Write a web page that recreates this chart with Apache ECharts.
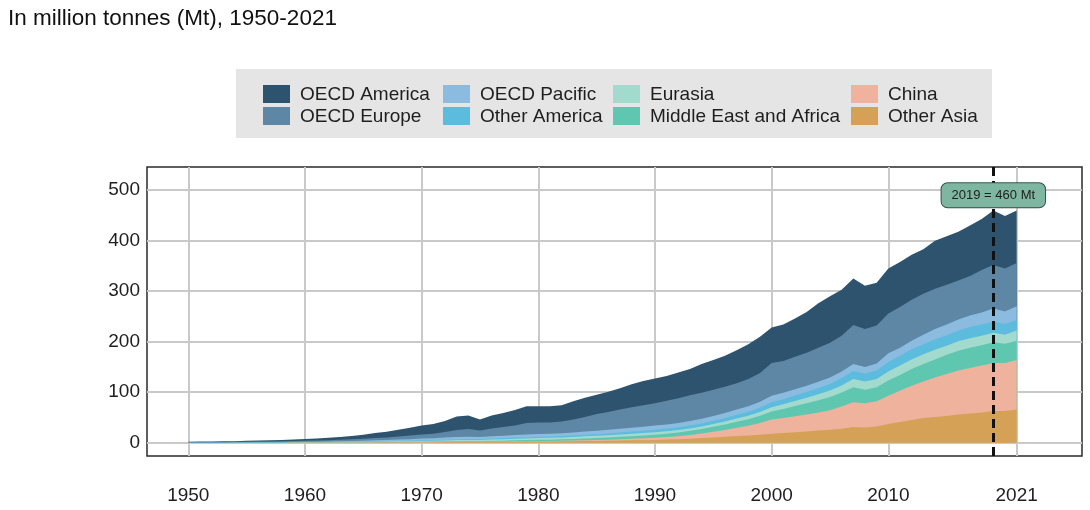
<!DOCTYPE html>
<html>
<head>
<meta charset="utf-8">
<script src="https://cdn.jsdelivr.net/npm/echarts@6/dist/echarts.min.js"></script>
<style>
  html, body { margin: 0; padding: 0; background: #fff; }
  #main { width: 1090px; height: 510px; }
</style>
</head>
<body>
<div id="main"></div>
<script>
// years 1950..2021
var years = [];
for (var y = 1950; y <= 2021; y++) years.push(y);

// values in Mt
var otherAsia = [0,0,0,0,0,0.1,0.1,0.1,0.1,0.2, 0.2,0.2,0.3,0.3,0.4,0.5,0.6,0.7,0.8,0.9,
  1.0,1.1,1.3,1.5,1.6,1.5,1.7,1.9,2.1,2.3, 2.4,2.5,2.7,3.0,3.3,3.6,3.9,4.3,4.7,5.1,
  5.5,6.2,7,8,9.2,10.5,12,13.5,14.5,16, 18,19,20.5,22,24,25.5,27.5,31,30,32,
  37,41,45,49,51,53,56,58,60,63, 63,66];
var china = [0,0,0,0,0,0,0,0,0,0, 0,0,0,0,0,0.1,0.1,0.1,0.1,0.1,
  0.2,0.2,0.3,0.3,0.3,0.3,0.4,0.5,0.6,0.7, 0.8,0.9,1.0,1.2,1.5,1.8,2.2,2.6,3.1,3.6,
  4.2,5,6,7.5,9,11,13,16,19,23, 28,30,32,34,36,39,44,49,48,50,
  56,62,68,72,78,83,87,90,93,95, 95,98];
var middleEastAfrica = [0,0,0,0,0,0.1,0.1,0.1,0.1,0.1, 0.2,0.2,0.2,0.3,0.3,0.4,0.4,0.5,0.6,0.7,
  0.8,0.9,1.0,1.2,1.3,1.3,1.5,1.7,2.0,2.3, 2.5,2.7,3.0,3.3,3.6,4.0,4.3,4.7,5.1,5.5,
  6,6.6,7.3,8,9,10,11,12,13,14.5, 16,18,20,22,24,26,28,30,27,28,
  30,31,33,35,36,38,39,40,40,41, 38,38];
var eurasia = [0.1,0.1,0.1,0.1,0.2,0.2,0.2,0.3,0.3,0.4, 0.5,0.5,0.6,0.7,0.8,0.9,1.0,1.1,1.3,1.4,
  1.6,1.8,2.0,2.2,2.4,2.5,2.7,2.9,3.1,3.3, 3.5,3.6,3.8,4.0,4.2,4.4,4.6,4.8,5.0,5.1,
  5.2,5.0,4.8,4.8,5.0,5.5,6,6.5,7,7.5, 8,9,10,11,12,13,14,16,16,16,
  18,19,19,19,19,18,19,19,19,19, 18,20];
var otherAmerica = [0.1,0.1,0.1,0.1,0.1,0.2,0.2,0.2,0.2,0.3, 0.3,0.3,0.4,0.4,0.5,0.6,0.7,0.8,0.9,1.0,
  1.2,1.3,1.5,1.7,1.8,1.7,1.9,2.1,2.3,2.4, 2.5,2.5,2.6,2.8,3.0,3.2,3.5,3.8,4.1,4.5,
  5,5.2,5.5,5.8,6.1,6.5,7,7.5,8,8.7, 10,10.3,10.8,11.5,12.2,13,14.5,16,16,17,
  19,19,20,20,21,21,21,22,22,22, 21,21];
var oecdPacific = [0.1,0.1,0.1,0.2,0.2,0.3,0.3,0.4,0.4,0.5, 0.6,0.7,0.9,1.1,1.3,1.6,1.9,2.2,2.6,3.0,
  3.4,3.6,4.0,4.6,4.6,4.0,4.5,4.8,5.1,5.5, 5.5,5.6,5.8,6.1,6.4,6.7,7.0,7.3,7.6,7.9,
  8,8.3,8.6,8.9,9.2,9.5,9.8,10.2,10.6,11.2, 13,12.5,12.5,12.5,12.5,12.8,13.2,14,13,14,
  17,16,17,19,20,21,22,23,24,26, 25,27];
var oecdEurope = [0.7,0.8,0.9,1.0,1.1,1.2,1.4,1.5,1.7,1.9, 2.0,2.3,2.5,2.9,3.4,3.8,4.5,5.1,6.2,7.4,
  8.3,9.1,10.9,13.5,15,12.7,15.3,17.1,18.8,22.5, 22.8,22.2,23.1,25.6,29,33.3,35.5,38.5,40.4,42.3,
  44.1,46.7,48.8,51,51.5,52,52.2,52.3,53.9,57.1, 65,63.2,64.2,65,67.3,68.7,70.8,77,75,75,
  79,81,81,81,80,79,77,78,84,86, 85,86];
var oecdAmerica = [1.0,1.1,1.2,1.4,1.5,1.8,2.0,2.2,2.4,3.1, 3.8,4.1,4.9,5.8,6.8,8.1,9.8,11,13,15,
  17.5,19,22,27,27,22,26,28,31,33, 32,32,32,36,38,38,40,42,46,48,
  49,49,51,52,57,59,61,65,69,72, 70,72,76,81,88,92,91,92,86,85,
  89,89,89,88,95,96,97,100,101,108, 104,104];

var xTicks = [1950, 1960, 1970, 1980, 1990, 2000, 2010, 2021];
var yTicks = [0, 100, 200, 300, 400, 500];
var markYear = 2019;
var markLabel = '2019 = 460 Mt';

// stacking order: first = bottom
var regions = [
  { name: 'Other Asia', data: otherAsia, color: '#d5a156' },
  { name: 'China', data: china, color: '#efb29c' },
  { name: 'Middle East and Africa', data: middleEastAfrica, color: '#5fc7b0' },
  { name: 'Eurasia', data: eurasia, color: '#a2dbcd' },
  { name: 'Other America', data: otherAmerica, color: '#5cbcde' },
  { name: 'OECD Pacific', data: oecdPacific, color: '#8cbbe0' },
  { name: 'OECD Europe', data: oecdEurope, color: '#5d87a4' },
  { name: 'OECD America', data: oecdAmerica, color: '#2d536f' }
];
// legend columns, as in the picture
var legendCols = [
  ['OECD America', 'OECD Europe'],
  ['OECD Pacific', 'Other America'],
  ['Eurasia', 'Middle East and Africa'],
  ['China', 'Other Asia']
];

var font = '"Liberation Sans", Arial, sans-serif';
var myChart = echarts.init(document.getElementById('main'));

function colorOf(name) {
  for (var i = 0; i < regions.length; i++) if (regions[i].name === name) return regions[i].color;
}

// hand-made legend (box + swatches + labels)
var graphics = [
  { type: 'text', left: 8, top: 7,
    style: { text: 'In million tonnes (Mt), 1950-2021', font: '22.5px ' + font, fill: '#111' } },
  { type: 'rect', left: 236, top: 69, z: -1,
    shape: { width: 756, height: 69 }, style: { fill: '#e5e5e5' } }
];
var colLeft = [263, 443, 613, 851];
legendCols.forEach(function (col, c) {
  col.forEach(function (name, r) {
    graphics.push({ type: 'rect', left: colLeft[c], top: 85 + r * 22,
      shape: { width: 27, height: 18 }, style: { fill: colorOf(name) } });
    graphics.push({ type: 'text', left: colLeft[c] + 37, top: 85 + r * 22,
      style: { text: name, font: '19px ' + font, fill: '#1e1e1e' } });
  });
});

var gridLines = [];
xTicks.forEach(function (v) { gridLines.push({ xAxis: v }); });
yTicks.forEach(function (v) { gridLines.push({ yAxis: v }); });

var series = [{
  // grid lines behind the areas
  type: 'line', data: [[1950, 0]], symbol: 'none', z: 0, silent: true,
  lineStyle: { width: 0 },
  markLine: {
    z: 0, silent: true, symbol: ['none', 'none'], label: { show: false },
    lineStyle: { color: '#c9c9c9', width: 2, type: 'solid' },
    data: gridLines
  }
}];

// running totals: each layer is filled down to zero, drawn from the top layer
// downwards so that every lower layer covers the one above it
var running = years.map(function () { return 0; });
var tops = regions.map(function (r) {
  running = running.map(function (s, i) { return s + r.data[i]; });
  return running.slice();
});
for (var k = regions.length - 1; k >= 0; k--) {
  (function (r, top, order) {
    series.push({
      name: r.name,
      type: 'line',
      z: 2 + order,
      symbol: 'none',
      lineStyle: { width: 0 },
      itemStyle: { color: r.color },
      areaStyle: { color: r.color, opacity: 1 },
      data: years.map(function (yr, i) { return [yr, top[i]]; })
    });
  })(regions[k], tops[k], regions.length - k);
}

// 2019 marker on top
series.push({
  type: 'line', data: [[markYear, 0]], symbol: 'none', z: 40, silent: true,
  lineStyle: { width: 0 },
  markLine: {
    z: 50, silent: true, symbol: ['none', 'none'], label: { show: false },
    lineStyle: { color: '#111', width: 3, type: [9, 5] },
    data: [{ xAxis: markYear }]
  },
  markPoint: {
    z: 60, silent: true, symbol: 'rect', symbolSize: 1,
    itemStyle: { color: 'rgba(0,0,0,0)' },
    label: {
      show: true, position: 'inside', formatter: markLabel,
      fontFamily: font, fontSize: 13, color: '#1e1e1e',
      backgroundColor: '#7fb6a2', borderColor: '#31544a', borderWidth: 1,
      borderRadius: 6, padding: [6, 10, 5, 10]
    },
    data: [{ coord: [markYear, 490] }]
  }
});

var option = {
  animation: false,
  graphic: graphics,
  grid: {
    left: 147, right: 8, top: 167, bottom: 54,
    show: true, borderColor: '#2a2a2a', borderWidth: 1.5, backgroundColor: '#fff'
  },
  xAxis: {
    type: 'value', min: 1946.46, max: 2026.6,
    axisLine: { show: false }, axisTick: { show: false },
    splitLine: { show: false },
    axisLabel: {
      customValues: xTicks, margin: 30,
      formatter: function (v) { return String(v); },
      fontFamily: font, fontSize: 19, color: '#1e1e1e'
    }
  },
  yAxis: {
    type: 'value', min: -26.3, max: 546,
    axisLine: { show: false }, axisTick: { show: false },
    splitLine: { show: false },
    axisLabel: {
      customValues: yTicks, margin: 7,
      fontFamily: font, fontSize: 19, color: '#1e1e1e'
    }
  },
  series: series
};

myChart.setOption(option);
</script>
</body>
</html>
